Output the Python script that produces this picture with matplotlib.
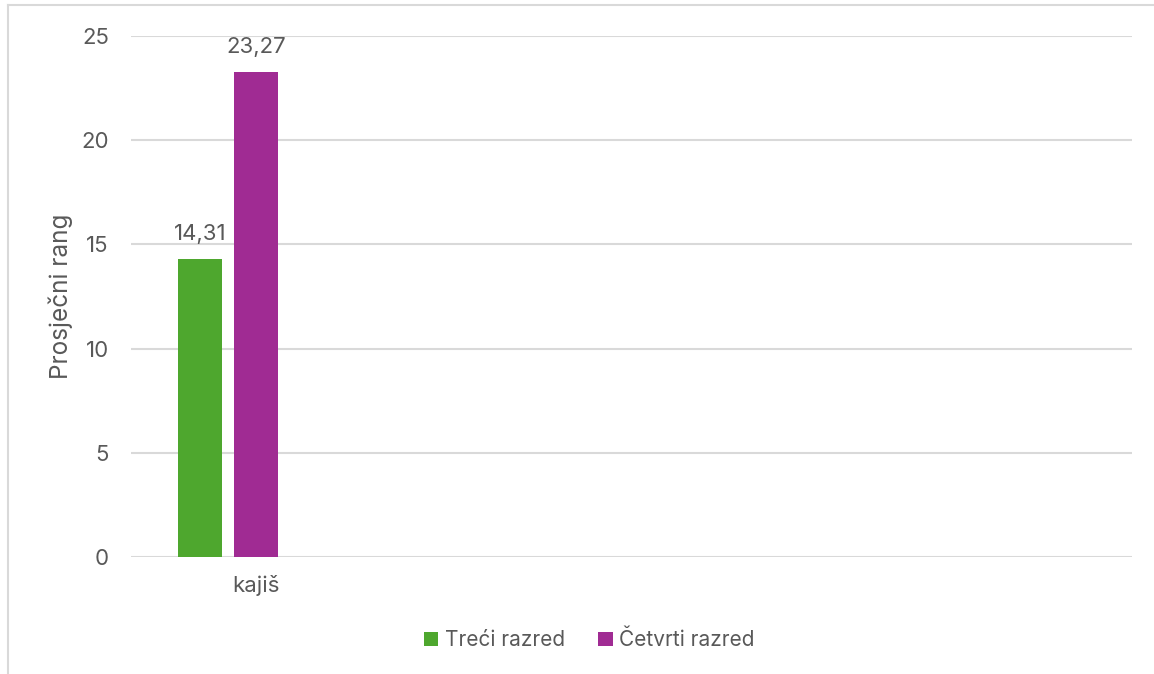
import matplotlib.pyplot as plt
from matplotlib.lines import Line2D
import numpy as np

plt.rcParams['font.family'] = ['Inter', 'DejaVu Sans']

# chart data
categories = ['kajiš', '', '', '']
series_names = ['Treći razred', 'Četvrti razred']
treci = [14.31]
cetvrti = [23.27]
value_labels_treci = ['14,31']
value_labels_cetvrti = ['23,27']
y_ticks = [0, 5, 10, 15, 20, 25]

green = '#4EA72E'
purple = '#A02B93'
text_col = '#595959'
grid_col = '#D9D9D9'

fig = plt.figure(figsize=(11.54, 6.74), dpi=100)
ax = fig.add_axes([131 / 1154, 1 - 557 / 674, 1001 / 1154, 521 / 674])

x = np.arange(len(categories))
w = 0.176
step = 0.224
b1 = ax.bar(x[:len(treci)] - step, treci, w, color=green, label=series_names[0], zorder=3)
b2 = ax.bar(x[:len(cetvrti)], cetvrti, w, color=purple, label=series_names[1], zorder=3)

ax.bar_label(b1, labels=value_labels_treci, padding=11, fontsize=16, color=text_col)
ax.bar_label(b2, labels=value_labels_cetvrti, padding=11, fontsize=16, color=text_col)

ax.set_xlim(-0.5, len(categories) - 0.5)
ax.set_ylim(0, 25)
ax.set_yticks(y_ticks)
ax.set_xticks(x)
ax.set_xticklabels(categories)
ax.tick_params(axis='both', length=0, labelsize=16, labelcolor=text_col)
ax.tick_params(axis='y', pad=16)
ax.tick_params(axis='x', pad=13)
ax.yaxis.grid(True, color=grid_col, linewidth=1.5, zorder=0)
for s in ax.spines.values():
    s.set_visible(False)
ax.set_axisbelow(True)

ax.set_ylabel('Prosječni rang', fontsize=17.5, color=text_col)
ax.yaxis.set_label_coords(-0.058, 0.5)

fig.legend(handles=[b1, b2], loc='center', bbox_to_anchor=(589 / 1154, 1 - 640 / 674),
           ncol=2, frameon=False, fontsize=15, labelcolor=text_col,
           handlelength=0.7, handleheight=0.7, handletextpad=0.3, columnspacing=1.6)

# chart area border (top and left visible)
fig.add_artist(Line2D([8 / 1154, 8 / 1154], [0, 1 - 5 / 674], transform=fig.transFigure,
                      color=grid_col, linewidth=1.5))
fig.add_artist(Line2D([8 / 1154, 1], [1 - 5 / 674, 1 - 5 / 674], transform=fig.transFigure,
                      color=grid_col, linewidth=1.5))

fig.savefig('out.png', dpi=100, facecolor='white')
